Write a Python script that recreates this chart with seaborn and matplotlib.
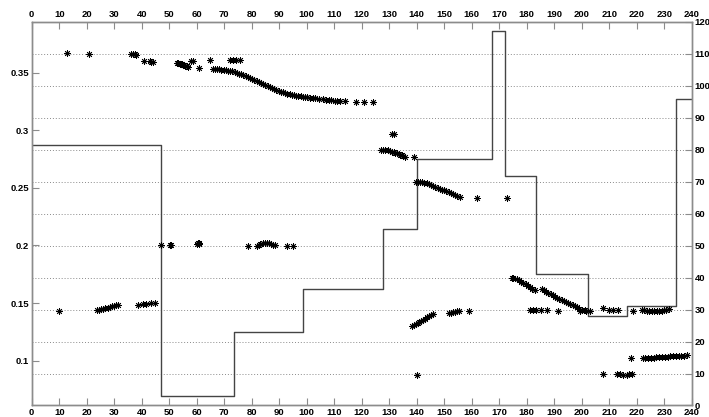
import numpy as np
import pandas as pd
import matplotlib
matplotlib.use('Agg')
import matplotlib.pyplot as plt
import seaborn as sns

# Step series (right axis): bin edges and levels
step_edges = [0, 47, 73.6, 98.5, 127.6, 140, 167.3, 172.2, 183.3, 202.4, 216.4, 234.4, 240]
step_levels = [81.6, 3, 23, 36.4, 55.3, 77.1, 117, 71.8, 41.1, 28, 31.2, 96]

# Scatter points (left axis)
top_x = [12.9, 20.8, 36.1, 36.8, 37.4, 37.9, 40.9, 43.0, 43.5, 44.1,
         52.7, 53.3, 53.8, 54.2, 54.6, 55.0, 55.4, 55.8, 56.3, 56.9,
         58.0, 58.7, 60.8, 64.9, 72.1, 73.2, 74.3, 75.7]
top_y = [0.3669, 0.3663, 0.3660, 0.3660, 0.3660, 0.3658, 0.3605, 0.3598, 0.3596, 0.3594,
         0.3587, 0.3584, 0.3580, 0.3577, 0.3574, 0.3570, 0.3566, 0.3562, 0.3557, 0.3552,
         0.3606, 0.3606, 0.3541, 0.3608, 0.3608, 0.3608, 0.3608, 0.3608]

curve_x = [65.8, 66.6, 67.4, 68.2, 69.0, 69.8, 70.6, 71.4, 72.2, 73.0, 73.8, 74.6,
           75.4, 76.2, 77.0, 77.8, 78.6, 79.4, 80.2, 81.0, 81.8, 82.6, 83.4, 84.2,
           85.0, 85.8, 86.6, 87.4, 88.2, 89.0, 89.8, 90.6, 91.4, 92.2, 93.0, 93.8,
           94.6, 95.4, 96.2, 97.0, 97.8, 98.6, 99.4, 100.2, 101.2, 102.2, 103.2,
           104.6, 106.0, 107.0, 108.0, 109.0, 110.2, 111.2, 112.1, 113.9, 118.0,
           120.9, 124.0]
curve_y = [0.3535, 0.3533, 0.3531, 0.3529, 0.3527, 0.3525, 0.3522, 0.3519, 0.3516,
           0.3511, 0.3505, 0.3499, 0.3493, 0.3486, 0.3478, 0.3471, 0.3463, 0.3456,
           0.3448, 0.3440, 0.3431, 0.3423, 0.3414, 0.3405, 0.3396, 0.3386, 0.3376,
           0.3365, 0.3355, 0.3348, 0.3341, 0.3335, 0.3329, 0.3324, 0.3319, 0.3314,
           0.3310, 0.3306, 0.3302, 0.3298, 0.3295, 0.3291, 0.3288, 0.3285, 0.3282,
           0.3280, 0.3277, 0.3274, 0.3270, 0.3267, 0.3265, 0.3262, 0.3258, 0.3255,
           0.3252, 0.3252, 0.3247, 0.3247, 0.3247]

mid_x = [131.2, 131.9, 126.9, 127.8, 128.6, 129.4, 130.3, 131.0, 131.6, 132.2,
         132.8, 133.4, 134.0, 134.6, 135.2, 135.8, 139.0,
         139.7, 140.5, 141.3, 142.0, 142.8, 143.6, 144.4, 145.2, 146.0, 146.8,
         147.6, 148.4, 149.2, 150.0, 150.8, 151.6, 152.4, 153.2, 154.0, 154.8,
         155.7, 161.8, 172.9]
mid_y = [0.2966, 0.2966, 0.2833, 0.2831, 0.2829, 0.2826, 0.2821, 0.2816, 0.2811, 0.2806,
         0.2800, 0.2795, 0.2790, 0.2784, 0.2778, 0.2772, 0.2768,
         0.2551, 0.2551, 0.2550, 0.2548, 0.2545, 0.2542, 0.2534, 0.2526, 0.2518, 0.2510,
         0.2502, 0.2494, 0.2486, 0.2478, 0.2470, 0.2462, 0.2454, 0.2446, 0.2438, 0.2430,
         0.2420, 0.2415, 0.2415]

band_x = [46.9, 50.2, 50.8, 60.0, 60.4, 60.8, 61.0,
          78.8, 81.8, 82.5, 83.2, 84.0, 84.8, 85.5, 86.2, 87.0, 87.8, 88.5, 92.7, 94.9]
band_y = [0.2000, 0.2003, 0.2006, 0.2015, 0.2022, 0.2018, 0.2012,
          0.1993, 0.1995, 0.2005, 0.2013, 0.2020, 0.2024, 0.2025, 0.2022, 0.2016,
          0.2008, 0.2000, 0.1993, 0.1993]

low_left_x = [10.0, 23.6, 24.4, 25.2, 26.0, 26.8, 27.6, 28.4, 29.2, 30.0, 30.8, 31.5,
              38.8, 40.5, 41.5, 43.5, 44.8]
low_left_y = [0.1433, 0.1439, 0.1443, 0.1447, 0.1452, 0.1456, 0.1461, 0.1466, 0.1471,
              0.1476, 0.1481, 0.1485, 0.1485, 0.1489, 0.1491, 0.1497, 0.1500]

low_right_x = [140.0, 138.2, 138.9, 139.6, 140.3, 141.0, 141.7, 142.4, 143.1, 143.8,
               144.5, 145.2, 146.0, 151.9, 152.6, 153.3, 154.0, 154.7, 155.4, 159.0,
               174.5, 175.2, 176.4, 177.2, 178.0, 178.8, 179.6, 180.4, 181.2, 182.0, 183.0,
               185.5, 186.3, 187.1, 187.9, 188.7, 189.5, 190.3, 191.1, 191.9, 192.7,
               193.5, 194.3, 195.1, 195.9, 196.7, 197.5, 198.2, 199.2, 200.2, 201.2,
               181.2, 182.3, 183.5, 185.2, 187.3, 191.5, 199.5, 201.5, 203.0, 207.7,
               210.0, 211.5, 213.2, 218.8, 221.9, 222.8, 223.7, 224.6, 225.5, 226.4,
               227.3, 228.2, 229.1, 230.0, 230.8, 231.6,
               207.7, 212.7, 214.0, 215.2, 216.3, 217.3, 218.3,
               217.8, 222.2, 223.2, 224.2, 225.2, 226.2, 227.2, 228.2, 229.2, 230.2,
               231.2, 232.2, 233.2, 234.2, 235.2, 236.2, 237.3, 238.4]
low_right_y = [0.0876, 0.1303, 0.1311, 0.1319, 0.1328, 0.1338, 0.1347, 0.1357, 0.1366,
               0.1375, 0.1385, 0.1394, 0.1405, 0.1410, 0.1414, 0.1419, 0.1424, 0.1428,
               0.1433, 0.1433,
               0.1718, 0.1718, 0.1709, 0.1697, 0.1686, 0.1674, 0.1662, 0.1650, 0.1638,
               0.1626, 0.1613,
               0.1620, 0.1610, 0.1599, 0.1588, 0.1577, 0.1566, 0.1555, 0.1545, 0.1535,
               0.1525, 0.1515, 0.1506, 0.1497, 0.1489, 0.1481, 0.1473, 0.1466, 0.1452,
               0.1443, 0.1436,
               0.1439, 0.1439, 0.1439, 0.1439, 0.1439, 0.1433, 0.1433, 0.1433, 0.1433,
               0.1454, 0.1440, 0.1440, 0.1440, 0.1433, 0.1439, 0.1436, 0.1433, 0.1430,
               0.1428, 0.1427, 0.1428, 0.1431, 0.1435, 0.1439, 0.1443, 0.1445,
               0.0882, 0.0882, 0.0881, 0.0880, 0.0880, 0.0881, 0.0882,
               0.1021, 0.1021, 0.1022, 0.1024, 0.1025, 0.1026, 0.1028, 0.1030, 0.1031,
               0.1033, 0.1035, 0.1037, 0.1038, 0.1040, 0.1042, 0.1044, 0.1045, 0.1047]

x_ticks = list(range(0, 241, 10))
left_ticks = [0.1, 0.15, 0.2, 0.25, 0.3, 0.35]
left_labels = ['0.1', '0.15', '0.2', '0.25', '0.3', '0.35']
right_ticks = list(range(0, 121, 10))

# Build frames for seaborn
pts = pd.DataFrame({
    'x': top_x + curve_x + mid_x + band_x + low_left_x + low_right_x,
    'y': top_y + curve_y + mid_y + band_y + low_left_y + low_right_y,
})
steps = pd.DataFrame({'x': step_edges, 'y': step_levels + [step_levels[-1]]})

sns.set_style('white')
plt.rcParams['font.family'] = ['Liberation Sans', 'DejaVu Sans']
plt.rcParams['font.weight'] = 'bold'
plt.rcParams['font.size'] = 6.8

axis_grey = '#8c8c8c'
tick_font = dict(fontweight='bold', fontsize=6.8, color='black')

fig = plt.figure(figsize=(7.09, 4.17), dpi=100)
ax = fig.add_axes([0.0447, 0.0276, 0.9309, 0.9201])
ax2 = ax.twinx()

# Step line on the right axis, with dotted grid at its ticks
sns.lineplot(data=steps, x='x', y='y', ax=ax2, drawstyle='steps-post',
             color='#444444', linewidth=1.0, estimator=None, sort=False)
ax2.set_ylim(0, 120)
ax2.set_yticks(right_ticks)
ax2.set_yticklabels([str(t) for t in right_ticks], **tick_font)
ax2.yaxis.grid(True, linestyle=(0, (1, 2)), color='#8a8a8a', linewidth=0.7)
ax2.set_ylabel('')
ax2.set_xlabel('')

# Asterisk scatter on the left axis
sns.scatterplot(data=pts, x='x', y='y', ax=ax, marker=(8, 2, 0), color='k',
                s=20, linewidth=0.6)
ax.set_xlim(0, 240)
ax.set_ylim(0.0611, 0.3942)
ax.set_xticks(x_ticks)
ax.set_xticklabels([str(t) for t in x_ticks], **tick_font)
ax.set_yticks(left_ticks)
ax.set_yticklabels(left_labels, **tick_font)
ax.set_xlabel('')
ax.set_ylabel('')

ax2.set_zorder(ax.get_zorder() - 1)
ax.patch.set_visible(False)

ax.tick_params(axis='x', direction='in', length=5, width=0.8, color=axis_grey,
               top=True, labeltop=True, bottom=True, labelbottom=True, pad=2)
ax.tick_params(axis='y', direction='in', length=5, width=0.8, color=axis_grey,
               left=True, right=False, pad=2)
ax2.tick_params(axis='y', direction='in', length=5, width=0.8, color=axis_grey,
                right=True, left=False, pad=2)

for a in (ax, ax2):
    for sp in a.spines.values():
        sp.set_color(axis_grey)
        sp.set_linewidth(1.0)

fig.savefig('out.png', dpi=100)
